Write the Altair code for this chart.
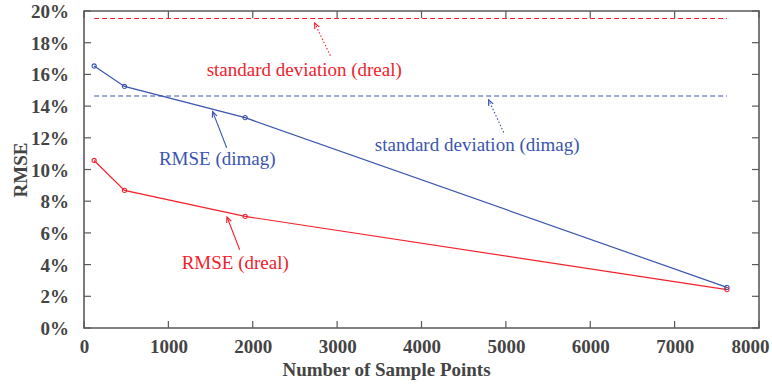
import math
import altair as alt
import pandas as pd

# ---------------- data ----------------
n_points = [120, 480, 1910, 7620]
rmse_dreal = [10.57, 8.68, 7.04, 2.42]
rmse_dimag = [16.53, 15.24, 13.27, 2.56]
std_dreal = 19.53
std_dimag = 14.64
std_x_range = [120, 7620]

x_ticks = [0, 1000, 2000, 3000, 4000, 5000, 6000, 7000, 8000]
y_ticks = [0, 2, 4, 6, 8, 10, 12, 14, 16, 18, 20]

labels = ["standard deviation (dreal)", "standard deviation (dimag)", "RMSE (dimag)", "RMSE (dreal)"]
label_x = [2610, 4660, 1579, 1792]
label_y = [16.3, 11.56, 10.68, 4.12]
label_series = ["dreal", "dimag", "dimag", "dreal"]

arrow_tail_x = [2920, 4974, 1691, 1845]
arrow_tail_y = [17.18, 12.34, 11.37, 4.94]
arrow_tip_x = [2734, 4796, 1525, 1695]
arrow_tip_y = [19.24, 14.39, 13.65, 7.0]
arrow_series = ["dreal", "dimag", "dimag", "dreal"]
arrow_kind = ["dotted", "dotted", "solid", "solid"]

# ---------------- style ----------------
W, H = 675, 317
XMAX, YMAX = 8000, 20
RED = "#f2222c"
BLUE = "#3b55b0"
FRAME = "#5a5a5a"
LABEL = "#444444"
SERIF = "Liberation Serif"

color_scale = alt.Scale(domain=["dreal", "dimag"], range=[RED, BLUE])
xs = alt.Scale(domain=[0, XMAX], nice=False, zero=True)
ys = alt.Scale(domain=[0, YMAX], nice=False, zero=True)

lines_df = pd.DataFrame({
    "x": n_points * 2,
    "y": rmse_dreal + rmse_dimag,
    "series": ["dreal"] * len(n_points) + ["dimag"] * len(n_points),
})

std_df = pd.DataFrame({
    "x": [std_x_range[0]] * 2,
    "x2": [std_x_range[1]] * 2,
    "y": [std_dreal, std_dimag],
    "series": ["dreal", "dimag"],
})

px_x = W / XMAX
px_y = H / YMAX
angles = []
for tx, ty, hx, hy in zip(arrow_tail_x, arrow_tail_y, arrow_tip_x, arrow_tip_y):
    dx = (hx - tx) * px_x
    dy = -(hy - ty) * px_y
    ang = math.degrees(math.atan2(dx, -dy)) % 360
    angles.append(ang)

arrows_df = pd.DataFrame({
    "x": arrow_tail_x, "y": arrow_tail_y,
    "x2": arrow_tip_x, "y2": arrow_tip_y,
    "series": arrow_series, "kind": arrow_kind, "angle": angles,
})

text_df = pd.DataFrame({"x": label_x, "y": label_y, "label": labels, "series": label_series})
xt_df = pd.DataFrame({"v": x_ticks})
yt_df = pd.DataFrame({"v": y_ticks})

color_enc = alt.Color("series:N", scale=color_scale, legend=None)

base_axes = alt.Chart(lines_df).mark_line(strokeWidth=1.2).encode(
    x=alt.X("x:Q", scale=xs,
            axis=alt.Axis(values=x_ticks, title="Number of Sample Points", grid=False,
                          tickSize=0, domain=False, labelPadding=9, labelOverlap=False,
                          labelOffset={"condition": {"test": "datum.value == 8000", "value": -9}, "value": 0},
                          labelFont=SERIF, labelFontSize=19, labelFontWeight="bold", labelColor=LABEL,
                          titleFont=SERIF, titleFontSize=19, titleFontWeight="bold", titleColor=LABEL,
                          titleX=302, titleY=47, titleBaseline="alphabetic", titleAlign="center",
                          labelFlush=False, format="d")),
    y=alt.Y("y:Q", scale=ys,
            axis=alt.Axis(values=y_ticks, title="RMSE", grid=False, labels=False, ticks=False,
                          domain=False,
                          titleFont=SERIF, titleFontSize=19, titleFontWeight="bold", titleColor=LABEL,
                          titleX=-64, titleY=H / 2, titleBaseline="middle", titleAlign="center")),
    color=color_enc,
)

ylabels = alt.Chart(yt_df).transform_calculate(lab="datum.v + '%'").mark_text(
    font=SERIF, fontSize=19, fontWeight="bold", color=LABEL, align="right", baseline="middle", dy=1
).encode(
    y=alt.Y("v:Q", scale=ys), x=alt.value(-15), text="lab:N",
)

points = alt.Chart(lines_df).mark_point(filled=False, size=18, strokeWidth=1.1, opacity=1).encode(
    x=alt.X("x:Q", scale=xs), y=alt.Y("y:Q", scale=ys), color=color_enc,
)

std_lines = alt.Chart(std_df).mark_rule(strokeWidth=1.1, strokeDash=[5, 3]).encode(
    x=alt.X("x:Q", scale=xs), x2="x2:Q", y=alt.Y("y:Q", scale=ys), color=color_enc,
)

shaft_solid = alt.Chart(arrows_df).transform_filter("datum.kind == 'solid'").mark_rule(strokeWidth=1.1).encode(
    x=alt.X("x:Q", scale=xs), x2="x2:Q", y=alt.Y("y:Q", scale=ys), y2="y2:Q", color=color_enc,
)
shaft_dotted = alt.Chart(arrows_df).transform_filter("datum.kind == 'dotted'").mark_rule(
    strokeWidth=1.1, strokeDash=[1.5, 2]).encode(
    x=alt.X("x:Q", scale=xs), x2="x2:Q", y=alt.Y("y:Q", scale=ys), y2="y2:Q", color=color_enc,
)
heads = alt.Chart(arrows_df).mark_point(
    shape="M-0.45,1L0,0L0.45,1", filled=False, size=120, strokeWidth=1.2, opacity=1).encode(
    x=alt.X("x2:Q", scale=xs), y=alt.Y("y2:Q", scale=ys), color=color_enc,
    angle=alt.Angle("angle:Q", scale=None),
)

texts = alt.Chart(text_df).mark_text(font=SERIF, fontSize=19, baseline="middle", align="center").encode(
    x=alt.X("x:Q", scale=xs), y=alt.Y("y:Q", scale=ys), text="label:N", color=color_enc,
)

tick_style = dict(color=FRAME, strokeWidth=1.2)
tb = alt.Chart(xt_df).mark_rule(**tick_style).encode(
    x=alt.X("v:Q", scale=xs), y=alt.value(H), y2=alt.value(H - 7))
tt = alt.Chart(xt_df).mark_rule(**tick_style).encode(
    x=alt.X("v:Q", scale=xs), y=alt.value(0), y2=alt.value(7))
tl = alt.Chart(yt_df).mark_rule(**tick_style).encode(
    y=alt.Y("v:Q", scale=ys), x=alt.value(0), x2=alt.value(7))
tr = alt.Chart(yt_df).mark_rule(**tick_style).encode(
    y=alt.Y("v:Q", scale=ys), x=alt.value(W), x2=alt.value(W - 7))

chart = alt.layer(
    base_axes, std_lines, shaft_dotted, shaft_solid, heads, points, texts, ylabels, tb, tt, tl, tr
).properties(
    width=W, height=H,
    autosize=alt.AutoSizeParams(type="none"),
    padding={"left": 84, "top": 11, "right": 13, "bottom": 57},
    background="white",
).configure_view(
    stroke=FRAME, strokeWidth=1.6,
)

chart.save("out.html", embed_options={"renderer": "svg", "actions": False})
